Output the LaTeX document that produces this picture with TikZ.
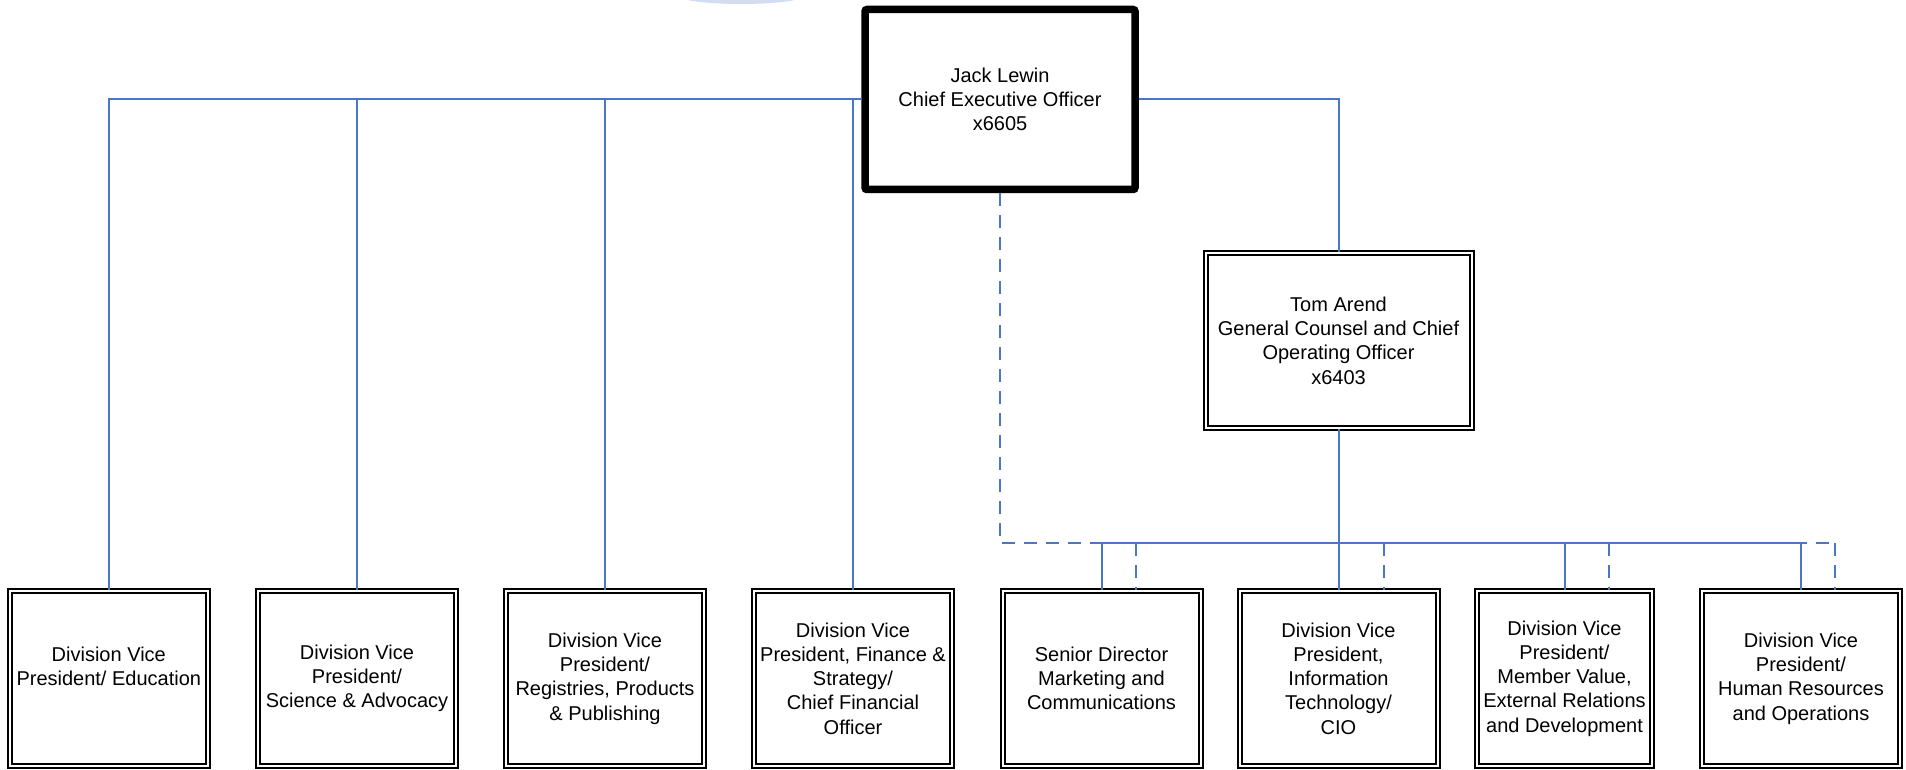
\documentclass[tikz,border=0pt]{standalone}
\usepackage{fontspec}
\setmainfont{Liberation Sans}
\usetikzlibrary{calc}
\definecolor{lineblue}{HTML}{4A76C6}
\definecolor{ghost}{HTML}{D2DDF1}
\begin{document}
\begin{tikzpicture}[x=1pt,y=-1pt,
  every node/.style={font=\fontsize{20}{24.3}\selectfont, align=center, inner sep=0pt},
  ceobox/.style={draw=black, line width=7.5pt, rounded corners=2pt, minimum width=270pt, minimum height=180pt},
  dblbox/.style={draw=black, double=white, line width=2pt, double distance=2pt, minimum width=198pt, minimum height=175pt},
  conn/.style={draw=lineblue, line width=2pt},
  dconn/.style={draw=lineblue, line width=2pt, dash pattern=on 13pt off 9pt}]
\useasboundingbox (0,0) rectangle (1906,770);
% faint shape at top edge
\fill[ghost] (741,-4) ellipse (62 and 8);
% nodes
\node[ceobox] (ceo) at (1000,99.5) {Jack Lewin\\Chief Executive Officer\\x6605};
\node[dblbox, minimum width=266pt] (tom) at (1338.5,340.5) {Tom Arend\\General Counsel and Chief\\Operating Officer\\x6403};
\node[dblbox] (b1) at (108.8,678.5) {Division Vice\\President/ Education\\\mbox{}};
\node[dblbox] (b2) at (357,678.5) {Division Vice\\President/\\Science \& Advocacy};
\node[dblbox] (b3) at (605,678.5) {Division Vice\\President/\\Registries, Products\\\& Publishing};
\node[dblbox] (b4) at (853,678.5) {Division Vice\\President, Finance \&\\Strategy/\\Chief Financial\\Officer};
\node[dblbox] (b5) at (1101.5,678.5) {Senior Director\\Marketing and\\Communications};
\node[dblbox] (b6) at (1338.5,678.5) {Division Vice\\President,\\Information\\Technology/\\CIO};
\node[dblbox, minimum width=175pt] (b7) at (1564.5,678.5) {Division Vice\\President/\\Member Value,\\External Relations\\and Development};
\node[dblbox] (b8) at (1801,678.5) {Division Vice\\President/\\Human Resources\\and Operations};
% bus coordinates
\coordinate (bus) at (1338.5,543);
\coordinate (dend) at (1835,543);
% dotted-line (dashed) reporting
\draw[dconn] (ceo.south) |- (dend);
\draw[dconn] ([xshift=34pt]b5.north |- bus) -- ([xshift=34pt]b5.north);
\draw[dconn] ([xshift=45pt]b6.north |- bus) -- ([xshift=45pt]b6.north);
\draw[dconn] ([xshift=44pt]b7.north |- bus) -- ([xshift=44pt]b7.north);
\draw[dconn] (dend) -- (dend |- b8.north);
% solid reporting lines from CEO
\draw[conn] (ceo.west) -| (b1.north);
\draw[conn] (ceo.west) -| (b2.north);
\draw[conn] (ceo.west) -| (b3.north);
\draw[conn] (ceo.west) -| (b4.north);
\draw[conn] (ceo.east) -| (tom.north);
% solid lines from COO
\draw[conn] (tom.south) -- (bus);
\draw[conn] (bus) -| (b5.north);
\draw[conn] (bus) -- (b6.north);
\draw[conn] (bus) -| (b7.north);
\draw[conn] (bus) -| (b8.north);
\end{tikzpicture}
\end{document}
